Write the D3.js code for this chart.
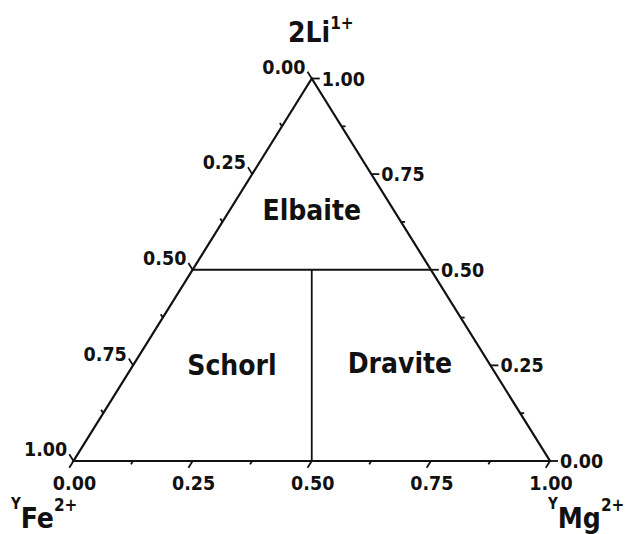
<!DOCTYPE html>
<html lang="en">
<head>
<meta charset="UTF-8">
<title>Tourmaline ternary</title>
<script src="https://d3js.org/d3.v7.min.js"></script>
<style>
  body { margin: 0; background: #fff; }
  text { font-family: "DejaVu Sans Condensed", "DejaVu Sans", sans-serif; font-weight: bold; fill: #111; }
</style>
</head>
<body>
<div id="chart"></div>
<script>
const width = 629
const height = 534

// ternary data: [Li, Fe, Mg]
const majorTicks = [0, 0.25, 0.5, 0.75, 1]
const minorTicks = [0.125, 0.375, 0.625, 0.875]
const boundaries = [
  [[0.5, 0.5, 0], [0.5, 0, 0.5]],
  [[0.5, 0.25, 0.25], [0, 0.5, 0.5]]
]
const fields = [
  {name: "Elbaite", pt: [0.63, 0.185, 0.185]},
  {name: "Schorl", pt: [0.225, 0.555, 0.22]},
  {name: "Dravite", pt: [0.23, 0.2, 0.57]}
]

const x = d3.scaleLinear().domain([0, 1]).range([73.5, 550])
const y = d3.scaleLinear().domain([0, 1]).range([461, 78.5])
// [Li, Fe, Mg] -> screen
const proj = d => [x(d[2] + d[0] / 2), y(d[0])]

const svg = d3.select("#chart").append("svg")
  .attr("width", width).attr("height", height)

const line = d3.line()
const fmt = d3.format(".2f")

// outline
svg.append("path")
  .attr("d", line([[1, 0, 0], [0, 1, 0], [0, 0, 1]].map(proj)) + "Z")
  .attr("fill", "none").attr("stroke", "#111").attr("stroke-width", 2.2)

svg.selectAll(".bound").data(boundaries).enter().append("path")
  .attr("d", d => line(d.map(proj)))
  .attr("fill", "none").attr("stroke", "#111").attr("stroke-width", 1.8)

// unit vectors for tick directions
const vec = (a, b) => {
  const p = proj(a), q = proj(b)
  const l = Math.hypot(q[0] - p[0], q[1] - p[1])
  return [(q[0] - p[0]) / l, (q[1] - p[1]) / l]
}
const downLeft = vec([1, 0, 0], [0, 1, 0])   // along left edge
const upLeft = vec([0, 0, 1], [1, 0, 0])      // along right edge
const right = [1, 0]

const axes = [
  // bottom: Mg fraction
  {pos: t => proj([0, 1 - t, t]), dir: downLeft, anchor: "middle", lab: (p, e) => [p[0] + 1, p[1] + 29]},
  // left: Fe fraction
  {pos: t => proj([1 - t, t, 0]), dir: upLeft, anchor: "end", lab: (p, e) => [e[0] - 2, e[1] + 2]},
  // right: Li fraction
  {pos: t => proj([t, 0, 1 - t]), dir: right, anchor: "start", lab: (p, e) => [e[0] + 2, e[1] + 7]}
]

axes.forEach(a => {
  const g = svg.append("g")
  g.selectAll(".maj").data(majorTicks).enter().append("line")
    .attr("x1", t => a.pos(t)[0]).attr("y1", t => a.pos(t)[1])
    .attr("x2", t => a.pos(t)[0] + a.dir[0] * 8).attr("y2", t => a.pos(t)[1] + a.dir[1] * 8)
    .attr("stroke", "#111").attr("stroke-width", 1.8)
  g.selectAll(".min").data(minorTicks).enter().append("line")
    .attr("x1", t => a.pos(t)[0]).attr("y1", t => a.pos(t)[1])
    .attr("x2", t => a.pos(t)[0] + a.dir[0] * 4).attr("y2", t => a.pos(t)[1] + a.dir[1] * 4)
    .attr("stroke", "#111").attr("stroke-width", 1.8)
  g.selectAll("text").data(majorTicks).enter().append("text")
    .attr("text-anchor", a.anchor)
    .attr("font-size", 19.5)
    .each(function (t) {
      const p = a.pos(t)
      const e = [p[0] + a.dir[0] * 8, p[1] + a.dir[1] * 8]
      const l = a.lab(p, e)
      d3.select(this).attr("x", l[0]).attr("y", l[1])
    })
    .text(fmt)
})

svg.selectAll(".field").data(fields).enter().append("text")
  .attr("x", d => proj(d.pt)[0]).attr("y", d => proj(d.pt)[1])
  .attr("text-anchor", "middle").attr("font-size", 28)
  .text(d => d.name)

// vertex titles
const liT = svg.append("text").attr("x", 288).attr("y", 42).attr("font-size", 28)
liT.append("tspan").text("2Li")
liT.append("tspan").attr("font-size", 17).attr("dy", -13).text("1+")

const feT = svg.append("text").attr("x", 11).attr("y", 528).attr("font-size", 28)
feT.append("tspan").attr("font-size", 15).attr("dy", -19).text("Y")
feT.append("tspan").attr("dy", 19).text("Fe")
feT.append("tspan").attr("font-size", 17).attr("dy", -17).text("2+")

const mgT = svg.append("text").attr("x", 548).attr("y", 528).attr("font-size", 28)
mgT.append("tspan").attr("font-size", 15).attr("dy", -19).text("Y")
mgT.append("tspan").attr("dy", 19).text("Mg")
mgT.append("tspan").attr("font-size", 17).attr("dy", -17).text("2+")
</script>
</body>
</html>
